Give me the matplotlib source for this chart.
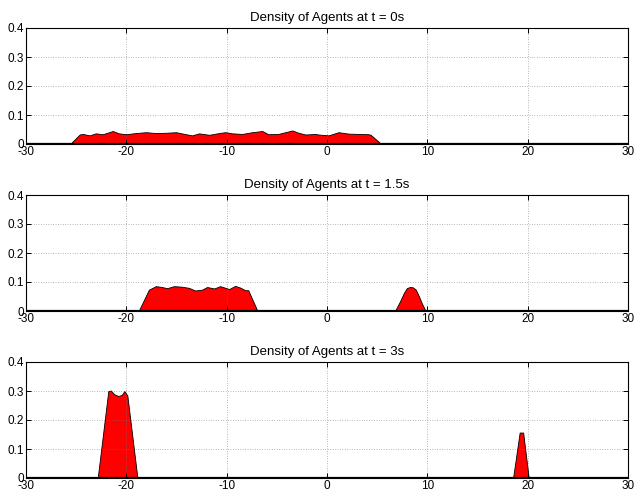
import numpy as np
import matplotlib
matplotlib.use("Agg")
import matplotlib.pyplot as plt

plt.rcParams['font.family'] = ['Liberation Sans', 'DejaVu Sans']
plt.rcParams['axes.unicode_minus'] = False

# density profiles (x in m, density)
x_t0 = [-30, -25.5, -24.6, -24.3, -23.6, -23.0, -22.3, -21.3, -20.7, -20.0, -19.0,
        -18.0, -17.0, -16.0, -15.0, -14.0, -13.4, -12.7, -11.7, -10.7, -10.1,
        -9.4, -8.4, -7.4, -6.4, -5.8, -4.8, -3.4, -2.8, -2.1, -1.1, -0.8, 0.2,
        1.2, 2.2, 3.2, 4.2, 4.4, 5.4, 30]
y_t0 = [0, 0, 0.031, 0.033, 0.028, 0.035, 0.032, 0.043, 0.035, 0.032, 0.036,
        0.039, 0.036, 0.037, 0.039, 0.032, 0.028, 0.035, 0.030, 0.036, 0.039,
        0.035, 0.033, 0.039, 0.043, 0.032, 0.033, 0.045, 0.037, 0.031, 0.033,
        0.031, 0.028, 0.039, 0.034, 0.033, 0.032, 0.030, 0, 0]

x_t15 = [-30, -18.7, -17.7, -17.0, -16.4, -15.9, -15.2, -14.4, -13.7, -13.1,
         -12.4, -11.9, -11.2, -10.6, -9.7, -9.1, -8.6, -8.1, -7.8, -6.9,
         6.85, 7.3, 7.7, 8.0, 8.3, 8.6, 8.9, 9.2, 9.5, 9.85, 30]
y_t15 = [0, 0, 0.072, 0.084, 0.081, 0.077, 0.084, 0.082, 0.078, 0.069,
         0.072, 0.081, 0.076, 0.084, 0.074, 0.085, 0.079, 0.070, 0.070, 0,
         0, 0.03, 0.06, 0.077, 0.081, 0.080, 0.072, 0.05, 0.025, 0, 0]

x_t3 = [-30, -22.8, -21.75, -21.5, -21.15, -20.75, -20.4, -20.15, -19.85, -18.85,
        18.6, 19.25, 19.6, 20.15, 30]
y_t3 = [0, 0, 0.298, 0.300, 0.287, 0.281, 0.285, 0.298, 0.283, 0,
        0, 0.155, 0.155, 0, 0]

titles = ['Density of Agents at t = 0s', 'Density of Agents at t = 1.5s',
          'Density of Agents at t = 3s']
series = [(x_t0, y_t0), (x_t15, y_t15), (x_t3, y_t3)]
x_ticks = [-30, -20, -10, 0, 10, 20, 30]
y_ticks = [0, 0.1, 0.2, 0.3, 0.4]
y_ticklabels = ['0', '0.1', '0.2', '0.3', '0.4']

fig = plt.figure(figsize=(6.34, 4.96), dpi=100)
bottoms = [1 - 144 / 496, 1 - 311 / 496, 1 - 478 / 496]
h = 116 / 496

for (xs, ys), title, b in zip(series, titles, bottoms):
    ax = fig.add_axes([26 / 634, b, 602 / 634, h])
    ax.fill_between(xs, ys, 0, facecolor='#ff0000', edgecolor='none')
    ax.plot(xs, ys, color='black', linewidth=0.6)
    ax.axhline(0, color='black', linewidth=1.6, zorder=3)
    ax.set_xlim(-30, 30)
    ax.set_ylim(0, 0.4)
    ax.set_xticks(x_ticks)
    ax.set_yticks(y_ticks)
    ax.set_yticklabels(y_ticklabels)
    ax.grid(True, linestyle=(0, (1, 2.5)), color='#777777', linewidth=0.5)
    ax.tick_params(direction='in', top=True, right=True, length=3.5, width=0.7,
                   labelsize=8.5, pad=1.5)
    for s in ax.spines.values():
        s.set_linewidth(0.8)
    ax.set_title(title, fontsize=9.5, pad=5)

fig.savefig('out.png', dpi=100)
